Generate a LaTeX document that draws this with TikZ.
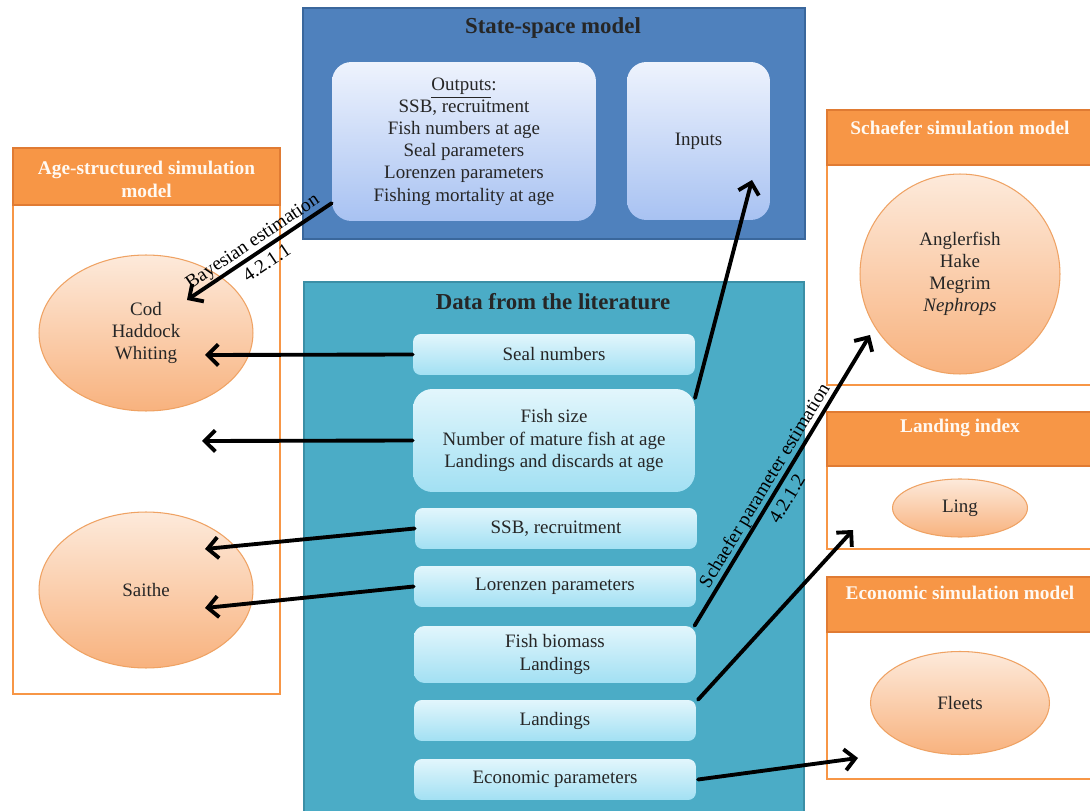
\documentclass[tikz,border=0pt]{standalone}
\usepackage{fontspec}
\setmainfont{Liberation Serif}
\usetikzlibrary{arrows.meta,calc,shapes.geometric}
\definecolor{ssblue}{HTML}{4F81BD}
\definecolor{ssborder}{HTML}{3A679C}
\definecolor{sstop}{HTML}{EEF3FD}
\definecolor{ssbot}{HTML}{A8C2F2}
\definecolor{dataaqua}{HTML}{4BACC6}
\definecolor{databorder}{HTML}{3B8FA6}
\definecolor{itemtop}{HTML}{E2F6FC}
\definecolor{itembot}{HTML}{A2E0F3}
\definecolor{orangeh}{HTML}{F79646}
\definecolor{orangeb}{HTML}{E07B33}
\definecolor{elltop}{HTML}{FDEADB}
\definecolor{ellbot}{HTML}{F8B27E}
\definecolor{ellborder}{HTML}{EFA263}
\definecolor{txt}{HTML}{262626}
\begin{document}
\begin{tikzpicture}[x=0.02cm,y=-0.02cm,
  body/.style={font=\fontsize{10.8}{12.6}\selectfont, text=txt, align=center},
  outerss/.style={draw=ssborder, line width=1.2pt, fill=ssblue, inner sep=0pt},
  outerdata/.style={draw=databorder, line width=1.2pt, fill=dataaqua, inner sep=0pt},
  ssinner/.style={body, rounded corners=11pt, top color=sstop, bottom color=ssbot, draw=none, inner sep=0pt},
  item/.style={body, rounded corners=4.5pt, top color=itemtop, bottom color=itembot, draw=none, inner sep=0pt, minimum width=5.64cm, minimum height=0.82cm},
  ttl/.style={font=\fontsize{13}{15}\selectfont\bfseries, text=black!85},
  panel/.style={draw=orangeh, line width=1.4pt, fill=white, inner sep=0pt},
  header/.style={fill=orangeh, draw=orangeb, line width=0.8pt, inner sep=0pt},
  htitle/.style={font=\fontsize{11}{13}\selectfont\bfseries, text=white!95!orange, align=center},
  ell/.style={body, ellipse, top color=elltop, bottom color=ellbot, draw=ellborder, line width=0.6pt, inner sep=0pt},
  arr/.style={line width=2.2pt, -{Straight Barb[length=6pt,width=12pt]}, line cap=round},
  lab/.style={font=\fontsize{11}{15}\selectfont, sloped, align=center, text=black}
]
\clip (0,0) rectangle (1090,811);
\fill[white] (0,0) rectangle (1090,811);

% State-space model
\node[outerss, minimum width=10.04cm, minimum height=4.62cm] (ss) at (554,123.5) {};
\node[ttl] (sstitle) at (553,28) {State-space model};
\node[ssinner, minimum width=5.28cm, minimum height=3.18cm] (out) at (464,141.5)
  {\underline{Outputs}:\\SSB, recruitment\\Fish numbers at age\\Seal parameters\\Lorenzen parameters\\Fishing mortality at age};
\node[ssinner, minimum width=2.86cm, minimum height=3.16cm] (inp) at (698.5,141) {Inputs};

% Data from the literature
\node[outerdata, minimum width=10cm, minimum height=10.96cm] (data) at (554,556) {};
\node[ttl] (datatitle) at (553,302) {Data from the literature};
\node[item] (seal) at (554,354.5) {Seal numbers};
\node[item, rounded corners=11pt, minimum height=2.06cm] (fsize) at (554,440.5) {Fish size\\Number of mature fish at age\\Landings and discards at age};
\node[item] (ssb) at (556,528.5) {SSB, recruitment};
\node[item] (lor) at (555,586.5) {Lorenzen parameters};
\node[item, rounded corners=6pt, minimum height=1.14cm] (bio) at (555,654.5) {Fish biomass\\Landings};
\node[item] (land) at (555,720.5) {Landings};
\node[item] (econ) at (555,779.5) {Economic parameters};

% Age-structured simulation model
\node[panel, minimum width=5.34cm, minimum height=10.92cm] (agep) at (146.5,421) {};
\node[header, minimum width=5.34cm, minimum height=1.14cm] (ageh) at (146.5,176.5) {};
\node[htitle] (aget) at (146.5,179) {Age-structured simulation\\model};
\node[ell, minimum width=4.28cm, minimum height=3.12cm] (cod) at (146,333) {Cod\\Haddock\\Whiting};
\node[ell, minimum width=4.28cm, minimum height=3.12cm] (sai) at (146,590) {Saithe};

% Schaefer simulation model
\node[panel, minimum width=5.46cm, minimum height=5.5cm] (schp) at (963.5,247.5) {};
\node[header, minimum width=5.46cm, minimum height=1.1cm] (schh) at (963.5,137.5) {};
\node[htitle] (scht) at (960,128) {Schaefer simulation model};
\node[ell, circle, minimum size=4cm] (sch) at (960,274) {Anglerfish\\Hake\\Megrim\\\textit{Nephrops}};

% Landing index
\node[panel, minimum width=5.46cm, minimum height=2.74cm] (lip) at (963.5,480.5) {};
\node[header, minimum width=5.46cm, minimum height=1.08cm] (lih) at (963.5,439) {};
\node[htitle] (lit) at (960,428) {Landing index};
\node[ell, minimum width=2.7cm, minimum height=1.16cm] (ling) at (960,508) {Ling};

% Economic simulation model
\node[panel, minimum width=5.46cm, minimum height=4.04cm] (ecp) at (963.5,678) {};
\node[header, minimum width=5.46cm, minimum height=1.1cm] (ech) at (963.5,604.5) {};
\node[htitle] (ect) at (960,593) {Economic simulation model};
\node[ell, minimum width=3.58cm, minimum height=2.06cm] (fleet) at (960,703) {Fleets};

% arrow ends
\coordinate (tcod) at (187,300);
\coordinate (tseal) at (205,355);
\coordinate (tfs) at (202,441);
\coordinate (tssb) at (205,549);
\coordinate (tlor) at (205,608);
\coordinate (tinp) at (752,180);
\coordinate (sfs) at (695,398);
\coordinate (tsch) at (870,335);
\coordinate (tling) at (853,530);
\coordinate (tfleet) at (858,758);

\draw[arr] (out.205.7) -- (tcod) node[lab, pos=0.5] {Bayesian estimation\\4.2.1.1};
\draw[arr] (seal.west) -- (tseal);
\draw[arr] (fsize.west) -- (tfs);
\draw[arr] (ssb.west) -- (tssb);
\draw[arr] (lor.west) -- (tlor);
\draw[arr] (sfs) -- (tinp);
\draw[arr] ([xshift=-1pt]bio.north east) -- (tsch) node[lab, pos=0.46] {Schaefer parameter estimation\\4.2.1.2};
\draw[arr] ([xshift=1pt]land.north east) -- (tling);
\draw[arr] ([xshift=1pt]econ.east) -- (tfleet);
\end{tikzpicture}
\end{document}
